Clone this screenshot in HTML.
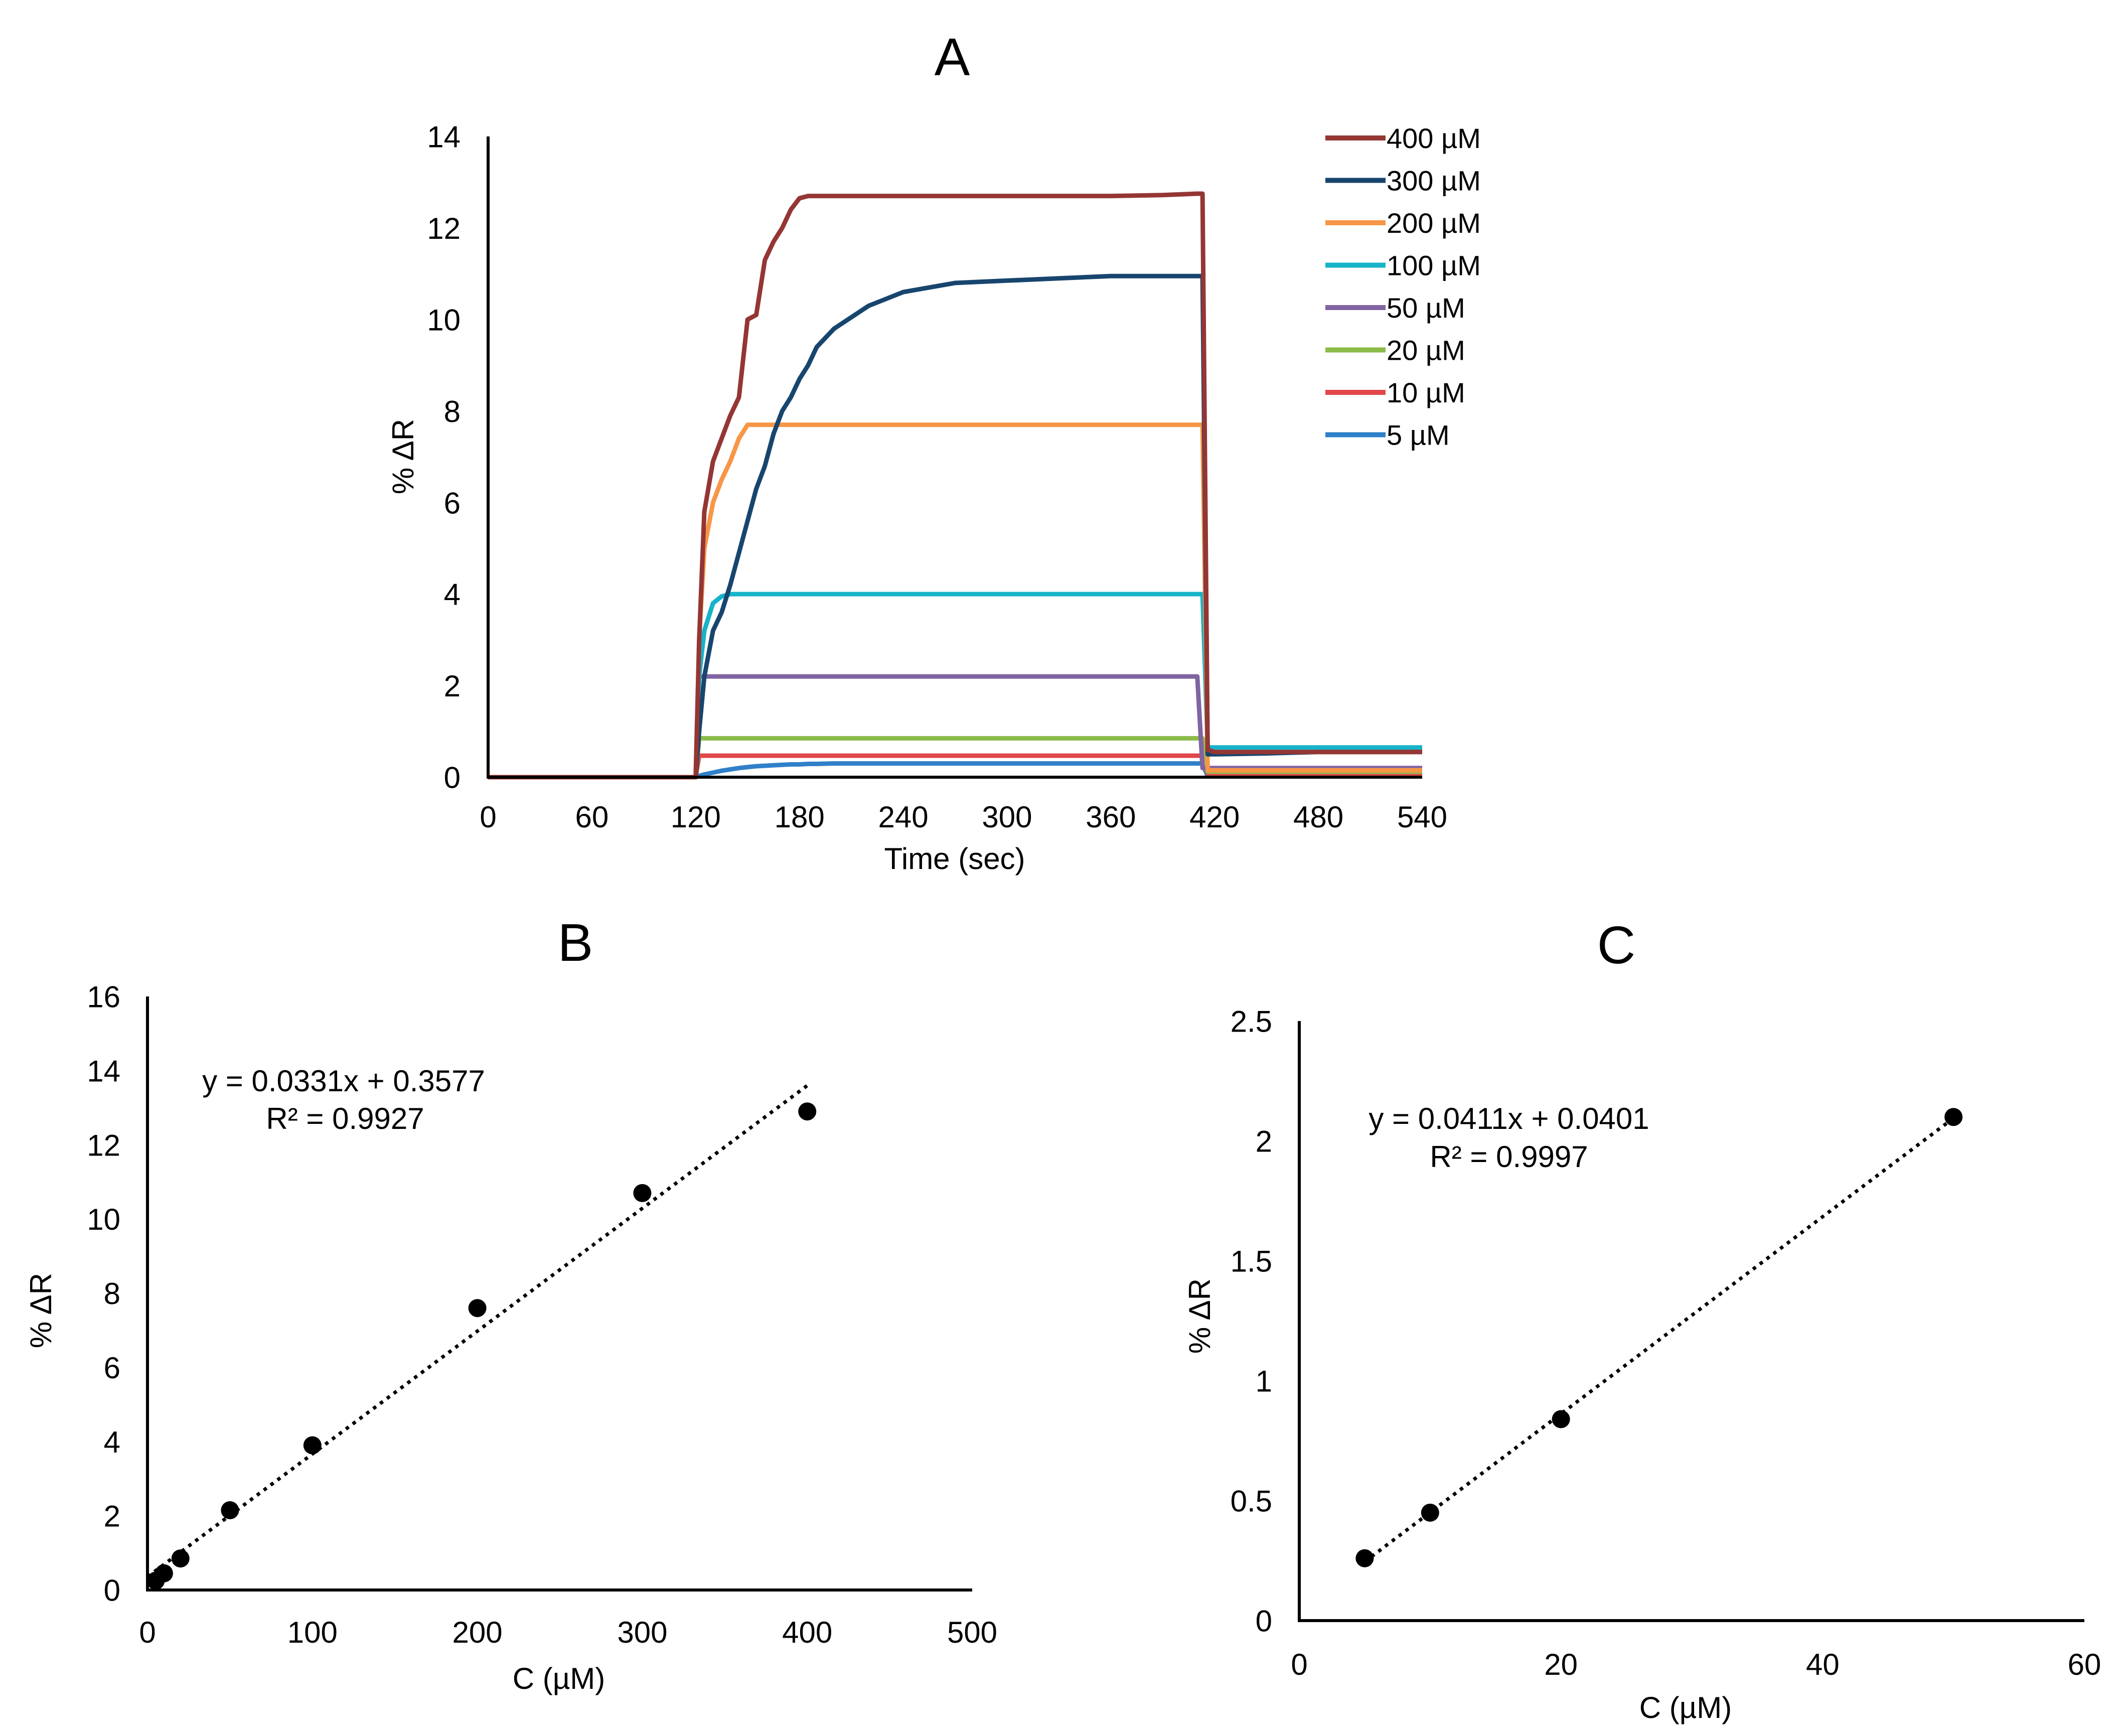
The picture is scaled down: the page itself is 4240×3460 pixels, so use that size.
<!DOCTYPE html>
<html><head><meta charset="utf-8"><style>
html,body{margin:0;padding:0;background:#fff;}
svg{display:block;font-family:"Liberation Sans",Arial,sans-serif;}
</style></head><body>
<svg id="fig" width="4240" height="3460" viewBox="0 0 4240 3460">
<rect width="4240" height="3460" fill="#fff"/>
</svg>
<script>
// ---------- Chart A data ----------
const aLabels = ["400 µM","300 µM","200 µM","100 µM","50 µM","20 µM","10 µM","5 µM"];
const aColors = ["#943634","#17456E","#F79646","#17B3C9","#8064A2","#8CBB4A","#E0484A","#2F80C9"];
const aXTicks = [0,60,120,180,240,300,360,420,480,540];
const aYTicks = [0,2,4,6,8,10,12,14];
const tA = [0,120,122,125,130,135,140,145,150,155,160,165,170,175,180,185,190,200,220,240,270,300,330,360,390,410,413,416,420,450,480,540];
const v400 = [0,0,3,5.8,6.9,7.4,7.9,8.3,10,10.1,11.3,11.7,12,12.4,12.65,12.7,12.7,12.7,12.7,12.7,12.7,12.7,12.7,12.7,12.72,12.75,12.75,0.6,0.55,0.55,0.55,0.55];
const v300 = [0,0,1,2.2,3.2,3.6,4.2,4.9,5.6,6.3,6.8,7.5,8.0,8.3,8.7,9.0,9.4,9.8,10.3,10.6,10.8,10.85,10.9,10.95,10.95,10.95,10.95,0.5,0.5,0.52,0.55,0.55];
const v200 = [0,0,3,5,6,6.5,6.9,7.4,7.7,7.7,7.7,7.7,7.7,7.7,7.7,7.7,7.7,7.7,7.7,7.7,7.7,7.7,7.7,7.7,7.7,7.7,7.7,0.15,0.15,0.15,0.15,0.15];
const v100 = [0,0,2.2,3.2,3.8,3.95,4,4,4,4,4,4,4,4,4,4,4,4,4,4,4,4,4,4,4,4,4,0.65,0.65,0.65,0.65,0.65];
const v50  = [0,0,2.2,2.2,2.2,2.2,2.2,2.2,2.2,2.2,2.2,2.2,2.2,2.2,2.2,2.2,2.2,2.2,2.2,2.2,2.2,2.2,2.2,2.2,2.2,2.2,0.2,0.2,0.2,0.2,0.2,0.2];
const v20  = [0,0,0.85,0.85,0.85,0.85,0.85,0.85,0.85,0.85,0.85,0.85,0.85,0.85,0.85,0.85,0.85,0.85,0.85,0.85,0.85,0.85,0.85,0.85,0.85,0.85,0.85,0.12,0.12,0.12,0.12,0.12];
const v10  = [0,0,0.47,0.47,0.47,0.47,0.47,0.47,0.47,0.47,0.47,0.47,0.47,0.47,0.47,0.47,0.47,0.47,0.47,0.47,0.47,0.47,0.47,0.47,0.47,0.47,0.47,0.08,0.08,0.08,0.08,0.08];
const v5   = [0,0,0.03,0.06,0.1,0.14,0.17,0.2,0.22,0.24,0.25,0.26,0.27,0.28,0.28,0.29,0.29,0.3,0.3,0.3,0.3,0.3,0.3,0.3,0.3,0.3,0.3,0.02,0.03,0.03,0.03,0.03];
const aSeries = [v400,v300,v200,v100,v50,v20,v10,v5];

// ---------- Chart B data ----------
const bX = [5,10,20,50,100,200,300,400];
const bY = [0.25,0.45,0.85,2.15,3.9,7.6,10.7,12.9];
const bXTicks = [0,100,200,300,400,500];
const bYTicks = [0,2,4,6,8,10,12,14,16];
const bSlope = 0.0331, bIntercept = 0.3577;

// ---------- Chart C data ----------
const cX = [5,10,20,50];
const cY = [0.26,0.45,0.84,2.1];
const cXTicks = [0,20,40,60];
const cYTicks = [0,0.5,1,1.5,2,2.5];
const cSlope = 0.0411, cIntercept = 0.0401;

const NS = "http://www.w3.org/2000/svg";
const svg = document.getElementById("fig");
function el(tag, attrs, parent){
  const e = document.createElementNS(NS, tag);
  for (const k in attrs) e.setAttribute(k, attrs[k]);
  (parent||svg).appendChild(e);
  return e;
}
function txt(str, x, y, size, anchor, parent, extra){
  const t = el("text", Object.assign({x:x, y:y, "font-size":size, "text-anchor":anchor||"middle", fill:"#000"}, extra||{}), parent);
  t.textContent = str;
  return t;
}

function axes(g, x0, x1, y0, y1, xs, ys, xt, yt, tickSize, xLabY, yLabX){
  const ax = el("line",{x1:x0,y1:y0,x2:x0,y2:y1,stroke:"#000","stroke-width":6},g);
  
  
  const bx = el("line",{x1:x0-3,y1:y0,x2:x1,y2:y0,stroke:"#000","stroke-width":6},g);
  
  
  xt.forEach(v=>{
    const t = txt(String(v), xs(v), xLabY, tickSize, "middle", g);
    
    
  });
  yt.forEach(v=>{
    const t = txt(String(v), yLabX, ys(v)+tickSize*0.36, tickSize, "end", g);
    
    
  });
}

const TICK = 60, TITLE = 60, LETTER = 106;

// ===== Chart A =====
(function(){
  const g = el("g",{});
  
  
  const X0=973, X1=2835, Y0=1549, Y1=272;
  const xs = v => X0 + (v-0)/(540-0)*(X1-X0);
  const ys = v => Y0 - (v-0)/(14-0)*(Y0-Y1);
  const tt = txt("A", 1898, 150, LETTER, "middle", g);
  
  
  for (let i=aSeries.length-1;i>=0;i--){
    const d = tA.map((t,j)=>(j?"L":"M")+xs(t).toFixed(1)+","+ys(aSeries[i][j]).toFixed(1)).join(" ");
    const p = el("path",{d:d,fill:"none",stroke:aColors[i],"stroke-width":9,"stroke-linejoin":"round"},g);
    
    
  }
  axes(g, X0, X1, Y0, Y1, xs, ys, aXTicks, aYTicks, TICK, 1649, 918);
  const xl = txt("Time (sec)", 1903, 1732, TITLE, "middle", g);
  
  
  const yl = txt("% ΔR", 0, 0, TITLE, "middle", g, {transform:"translate(824,910) rotate(-90)"});
  
  
  aLabels.forEach((lab,i)=>{
    const y = 275 + i*84.5;
    const lg = el("g",{},g);
    
    
    el("line",{x1:2642,y1:y,x2:2762,y2:y,stroke:aColors[i],"stroke-width":10},lg);
    txt(lab, 2764, y+20, 56, "start", lg);
  });
})();

// ===== Chart B =====
(function(){
  const g = el("g",{});
  
  
  const X0=294, X1=1938, Y0=3169, Y1=1986;
  const xs = v => X0 + v/500*(X1-X0);
  const ys = v => Y0 - v/16*(Y0-Y1);
  const tt = txt("B", 1147, 1915, LETTER, "middle", g);
  
  
  axes(g, X0, X1, Y0, Y1, xs, ys, bXTicks, bYTicks, TICK, 3274, 240);
  const tl = el("line",{x1:xs(0),y1:ys(bIntercept),x2:xs(400),y2:ys(bSlope*400+bIntercept),stroke:"#000","stroke-width":7,"stroke-dasharray":"7 10"},g);
  
  
  bX.forEach((x,i)=>{
    const c = el("circle",{cx:xs(x),cy:ys(bY[i]),r:18,fill:"#000"},g);
    
    
  });
  const e1 = txt("y = 0.0331x + 0.3577", 685, 2175, TITLE, "middle", g);
  
  
  const e2 = txt("R² = 0.9927", 688, 2250, TITLE, "middle", g);
  
  
  const xl = txt("C (µM)", 1114, 3366, TITLE, "middle", g);
  
  
  const yl = txt("% ΔR", 0, 0, TITLE, "middle", g, {transform:"translate(102,2612) rotate(-90)"});
  
  
})();

// ===== Chart C =====
(function(){
  const g = el("g",{});
  
  
  const X0=2590, X1=4155, Y0=3230, Y1=2035;
  const xs = v => X0 + v/60*(X1-X0);
  const ys = v => Y0 - v/2.5*(Y0-Y1);
  const tt = txt("C", 3222, 1920, LETTER, "middle", g);
  
  
  axes(g, X0, X1, Y0, Y1, xs, ys, cXTicks, cYTicks, TICK, 3338, 2536);
  const tl = el("line",{x1:xs(5),y1:ys(cSlope*5+cIntercept),x2:xs(50),y2:ys(cSlope*50+cIntercept),stroke:"#000","stroke-width":7,"stroke-dasharray":"7 10"},g);
  
  
  cX.forEach((x,i)=>{
    const c = el("circle",{cx:xs(x),cy:ys(cY[i]),r:18,fill:"#000"},g);
    
    
  });
  const e1 = txt("y = 0.0411x + 0.0401", 3008, 2250, TITLE, "middle", g);
  
  
  const e2 = txt("R² = 0.9997", 3008, 2326, TITLE, "middle", g);
  
  
  const xl = txt("C (µM)", 3360, 3424, TITLE, "middle", g);
  
  
  const yl = txt("% ΔR", 0, 0, TITLE, "middle", g, {transform:"translate(2412,2623) rotate(-90)"});
  
  
})();
</script>
</body></html>
